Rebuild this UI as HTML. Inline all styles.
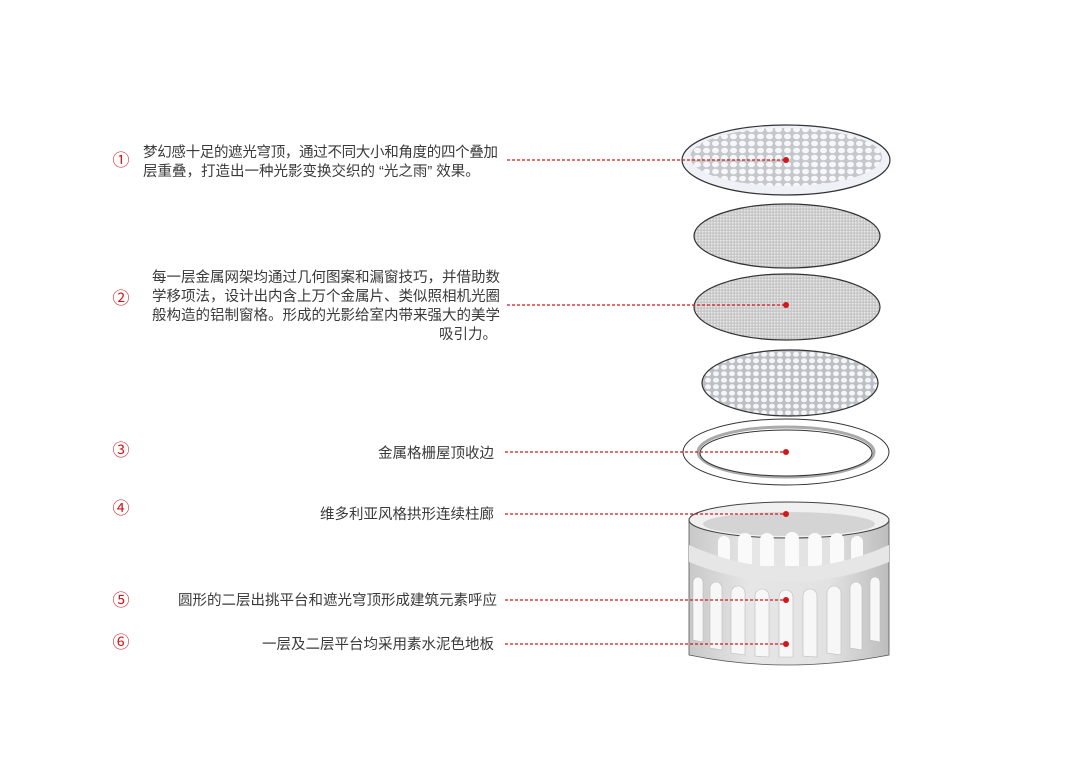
<!DOCTYPE html>
<html><head><meta charset="utf-8"><style>
html,body{margin:0;padding:0;background:#fff;}
svg{display:block;font-family:"Liberation Sans","Noto Sans CJK SC",sans-serif;}
</style></head><body>
<svg width="1080" height="764" viewBox="0 0 1080 764" xmlns="http://www.w3.org/2000/svg">
<defs>
<pattern id="perf" width="9" height="7" patternUnits="userSpaceOnUse">
<rect width="9" height="7" fill="#c4c7cb"/>
<ellipse cx="4.5" cy="3.5" rx="3.5" ry="2.8" fill="#f6f7f9"/>
</pattern>
<pattern id="perf2" width="8" height="6.5" patternUnits="userSpaceOnUse">
<rect width="8" height="6.5" fill="#bcc0c5"/>
<ellipse cx="4" cy="3.25" rx="3" ry="2.5" fill="#f4f5f7"/>
</pattern>
<pattern id="mesh" width="3" height="3" patternUnits="userSpaceOnUse">
<rect width="3" height="3" fill="#cdcdcd"/>
<rect width="1.5" height="1.5" fill="#e8e8e8"/>
<rect x="1.5" y="1.5" width="1" height="1" fill="#b0b0b0"/>
</pattern>
<linearGradient id="cyl" x1="0" x2="1">
<stop offset="0" stop-color="#c8c8c8"/><stop offset="0.3" stop-color="#e6e6e6"/><stop offset="0.7" stop-color="#e2e2e2"/><stop offset="1" stop-color="#bdbdbd"/>
</linearGradient>
</defs>

<!-- disc 1 -->
<ellipse cx="786" cy="160" rx="104" ry="35" fill="#eef1f5" stroke="#333" stroke-width="1.2"/>
<ellipse cx="786" cy="157" rx="96" ry="29" fill="url(#perf)"/>
<!-- disc 2 -->
<ellipse cx="787" cy="236" rx="93" ry="32" fill="url(#mesh)" stroke="#333" stroke-width="1.2"/>
<!-- disc 3 -->
<ellipse cx="787" cy="307" rx="93" ry="33" fill="url(#mesh)" stroke="#333" stroke-width="1.2"/>
<!-- disc 4 -->
<ellipse cx="790" cy="383" rx="88" ry="33" fill="url(#perf2)" stroke="#333" stroke-width="1.2"/>
<!-- ring -->
<ellipse cx="786" cy="452" rx="103" ry="33" fill="#fff" stroke="#333" stroke-width="1"/>
<ellipse cx="786" cy="452" rx="88" ry="25" fill="#fff" stroke="#aaa" stroke-width="3"/>
<ellipse cx="786" cy="453" rx="86" ry="23" fill="#fff" stroke="#333" stroke-width="1"/>

<!-- colonnade -->
<path d="M689 520 L689 655 Q786 675 889 655 L889 520 Z" fill="url(#cyl)" stroke="#555" stroke-width="0.8"/>
<ellipse cx="789" cy="520" rx="100" ry="18" fill="#f0f0f0" stroke="#444" stroke-width="1"/>
<ellipse cx="789" cy="524" rx="86" ry="12" fill="#d4d4d4"/>
<!-- back arches -->
<g fill="#fafafa">
<path d="M718 562 v-20 a6 6 0 0 1 12 0 v20z"/>
<path d="M738 564 v-24 a7 7 0 0 1 14 0 v24z"/>
<path d="M760 566 v-26 a7 7 0 0 1 14 0 v26z"/>
<path d="M785 566 v-27 a7 7 0 0 1 14 0 v27z"/>
<path d="M808 566 v-26 a7 7 0 0 1 14 0 v26z"/>
<path d="M830 564 v-24 a7 7 0 0 1 14 0 v24z"/>
<path d="M851 562 v-20 a6 6 0 0 1 12 0 v20z"/>
</g>
<path d="M689 545 Q789 590 889 545 L889 562 Q789 602 689 562Z" fill="#e6e6e6"/>
<!-- front arches -->
<g fill="#f7f7f7" stroke="#bbb" stroke-width="0.6">
<path d="M693 640 v-58 a5 5 0 0 1 10 0 v60z"/>
<path d="M710 648 v-60 a6 6 0 0 1 12 0 v62z"/>
<path d="M731 653 v-60 a7 7 0 0 1 14 0 v62z"/>
<path d="M755 656 v-60 a7 7 0 0 1 14 0 v61z"/>
<path d="M779 657 v-60 a7 7 0 0 1 14 0 v60z"/>
<path d="M803 656 v-60 a7 7 0 0 1 14 0 v61z"/>
<path d="M827 653 v-60 a7 7 0 0 1 14 0 v62z"/>
<path d="M850 648 v-60 a6 6 0 0 1 12 0 v62z"/>
<path d="M870 640 v-58 a5 5 0 0 1 10 0 v60z"/>
</g>

<!-- connectors -->
<g stroke="#d0181c" stroke-width="1.2" stroke-dasharray="3 2" fill="none">
<line x1="507" y1="160" x2="786" y2="160"/>
<line x1="507" y1="305" x2="786" y2="305"/>
<line x1="505" y1="452" x2="786" y2="452"/>
<line x1="505" y1="514" x2="786" y2="514"/>
<line x1="505" y1="600" x2="786" y2="600"/>
<line x1="505" y1="644" x2="786" y2="644"/>
</g>
<g fill="#d0181c">
<circle cx="786" cy="160" r="3"/><circle cx="786" cy="305" r="3"/><circle cx="786" cy="452" r="3"/>
<circle cx="786" cy="514" r="3"/><circle cx="786" cy="600" r="3"/><circle cx="786" cy="644" r="3"/>
</g>

<!-- numbers -->
<g fill="#d0181c" font-size="17" text-anchor="middle">
<text x="121" y="166">①</text>
<text x="121" y="304">②</text>
<text x="121" y="456">③</text>
<text x="121" y="514">④</text>
<text x="121" y="606">⑤</text>
<text x="121" y="648">⑥</text>
</g>

<!-- labels -->
<g fill="#3a3a3a" font-size="14.5">
<text x="143" y="157" textLength="355">梦幻感十足的遮光穹顶，通过不同大小和角度的四个叠加</text>
<text x="143" y="176">层重叠，打造出一种光影变换交织的 “光之雨” 效果。</text>
<text x="152" y="282" textLength="348">每一层金属网架均通过几何图案和漏窗技巧，并借助数</text>
<text x="152" y="301" textLength="348">学移项法，设计出内含上万个金属片、类似照相机光圈</text>
<text x="152" y="320" textLength="348">般构造的铝制窗格。形成的光影给室内带来强大的美学</text>
</g>
<g fill="#3a3a3a" font-size="14.5" text-anchor="end">
<text x="497" y="339">吸引力。</text>
<text x="494" y="458">金属格栅屋顶收边</text>
<text x="494" y="519">维多利亚风格拱形连续柱廊</text>
<text x="497" y="605">圆形的二层出挑平台和遮光穹顶形成建筑元素呼应</text>
<text x="494" y="649">一层及二层平台均采用素水泥色地板</text>
</g>
</svg>
</body></html>
